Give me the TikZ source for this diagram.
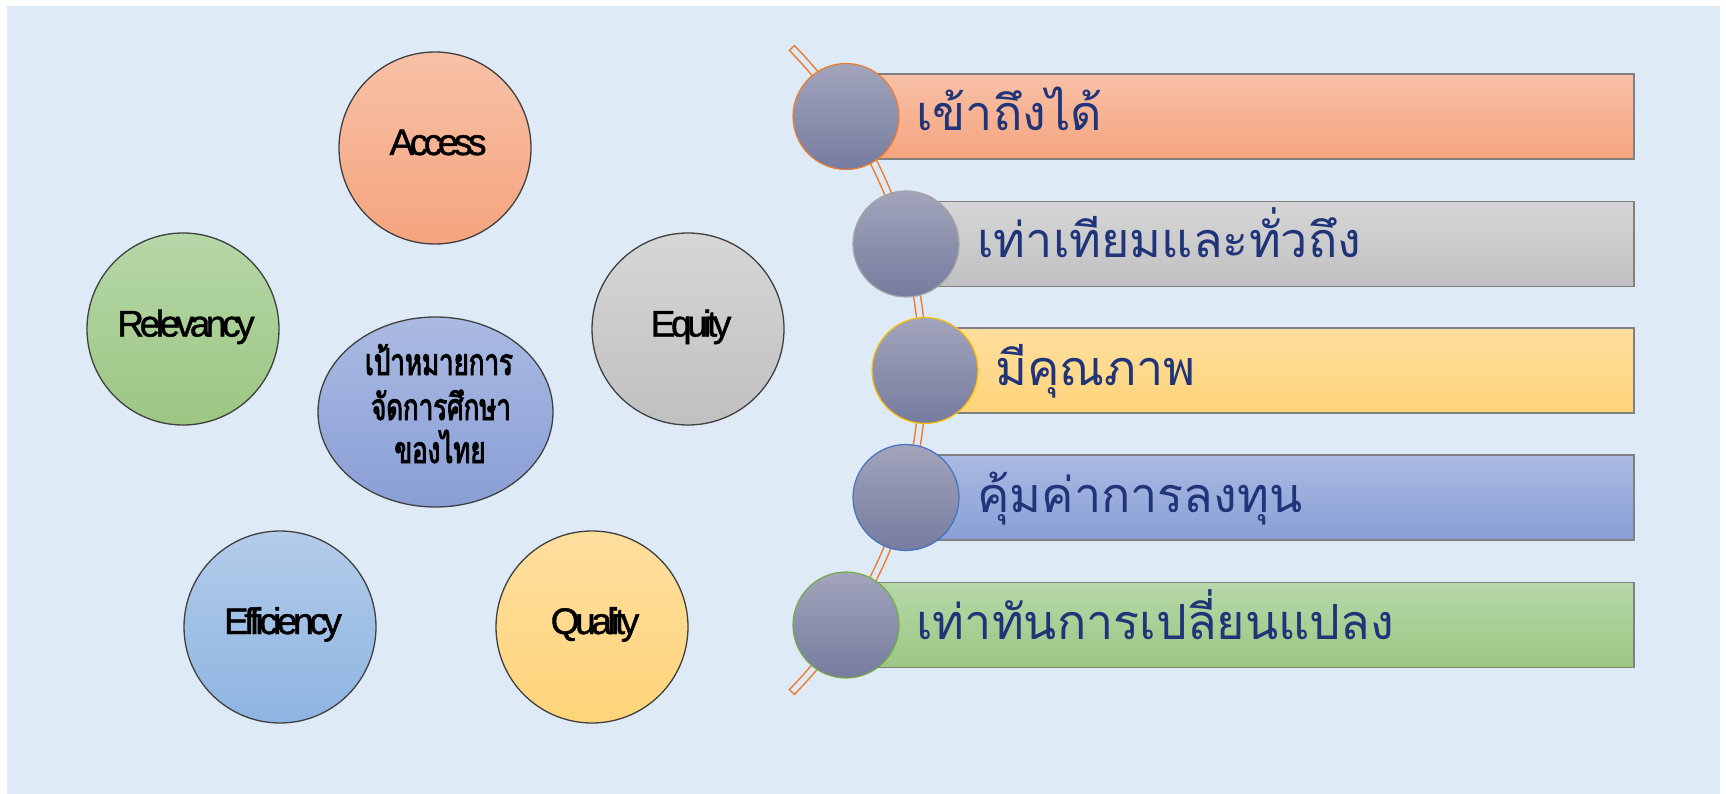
\documentclass[tikz,border=0pt]{standalone}
\usepackage{fontspec}
\setmainfont{Liberation Sans}
\newfontfamily\thaifont[Script=Thai]{Loma}
\newfontfamily\thaicenter[Script=Thai,FakeStretch=0.7,FakeBold=2.5]{Loma}
\newfontfamily\engfont[LetterSpace=-12,FakeBold=1.2]{Liberation Sans}
\usetikzlibrary{calc,shapes.geometric}
\definecolor{bg}{HTML}{DEEAF6}
\definecolor{orT}{HTML}{F8C1A7}\definecolor{orB}{HTML}{F5A47E}
\definecolor{grT}{HTML}{B6D7A8}\definecolor{grB}{HTML}{9CC782}
\definecolor{gyT}{HTML}{D6D6D6}\definecolor{gyB}{HTML}{C0C0C0}
\definecolor{blT}{HTML}{B3CCEA}\definecolor{blB}{HTML}{8DB4E1}
\definecolor{yeT}{HTML}{FFDF9F}\definecolor{yeB}{HTML}{FFD479}
\definecolor{puT}{HTML}{AABAE2}\definecolor{puB}{HTML}{899ED6}
\definecolor{knT}{HTML}{A2A4BB}\definecolor{knB}{HTML}{767C9F}
\definecolor{navy}{HTML}{1F3479}
\definecolor{arcor}{HTML}{ED7D31}
\definecolor{kOr}{HTML}{ED7D31}
\definecolor{kGy}{HTML}{A5A5A5}
\definecolor{kYe}{HTML}{FFC000}
\definecolor{kBl}{HTML}{4472C4}
\definecolor{kGr}{HTML}{70AD47}
\tikzset{
  bigc/.style={circle, draw=black!75, line width=1.3pt, minimum size=192pt, inner sep=0pt},
  engtxt/.style={font=\engfont\fontsize{37}{40}\selectfont, anchor=base, inner sep=0pt},
  ctrtxt/.style={font=\thaicenter\fontsize{37}{40}\selectfont, anchor=base, inner sep=0pt, text height=24pt, text depth=4pt},
  barbox/.style={rectangle, draw=black!50, line width=1.5pt, minimum height=85pt, anchor=west, inner sep=0pt},
  knob/.style={circle, minimum size=106pt, inner sep=0pt, line width=1.2pt, top color=knT, bottom color=knB},
  bartxt/.style={font=\thaifont\fontsize{48.5}{55}\selectfont, text=navy, anchor=base west, inner sep=0pt}
}
\begin{document}
\begin{tikzpicture}[x=1pt,y=-1pt]
\useasboundingbox (0,0) rectangle (1726,794);
\fill[white] (0,0) rectangle (1726,794);
\fill[bg] (7,6) rectangle (1720,794);
% left circles
\node[bigc, top color=orT, bottom color=orB] (access) at (435,148) {};
\node[bigc, top color=grT, bottom color=grB] (relev) at (183,329) {};
\node[bigc, top color=gyT, bottom color=gyB] (equity) at (688,329) {};
\node[bigc, top color=blT, bottom color=blB] (effic) at (280,627) {};
\node[bigc, top color=yeT, bottom color=yeB] (quality) at (592,627) {};
\node[ellipse, draw=black!75, line width=1.3pt, minimum width=235pt, minimum height=190pt, inner sep=0pt, top color=puT, bottom color=puB] (goal) at (435.5,412) {};
\node[engtxt] (taccess) at (438,155) {Access};
\node[engtxt] (trelev) at (186,336.5) {Relevancy};
\node[engtxt] (tequity) at (691,336.5) {Equity};
\node[engtxt] (teffic) at (283,634) {Efficiency};
\node[engtxt] (tquality) at (595,634) {Quality};
\node[ctrtxt] (g1) at (439,375) {เป้าหมายการ};
\node[ctrtxt] (g2) at (441,420) {จัดการศึกษา};
\node[ctrtxt] (g3) at (440,463) {ของไทย};
% arc band
\coordinate (ac) at (462,370);
\draw[arcor, line width=1.4pt, fill=bg] ($(ac)+(-44.3:464.5)$) arc[start angle=-44.3, end angle=44.3, radius=464.5]
  -- ($(ac)+(44.3:457.5)$) arc[start angle=44.3, end angle=-44.3, radius=457.5] -- cycle;
% bars
\node[barbox, minimum width=787pt, top color=orT, bottom color=orB] (b1) at (846,116.5) {};
\node[barbox, minimum width=727pt, top color=gyT, bottom color=gyB] (b2) at (906,244) {};
\node[barbox, minimum width=708pt, top color=yeT, bottom color=yeB] (b3) at (925,370.5) {};
\node[barbox, minimum width=727pt, top color=puT, bottom color=puB] (b4) at (906,497.5) {};
\node[barbox, minimum width=787pt, top color=grT, bottom color=grB] (b5) at (846,625) {};
% knobs
\node[knob, draw=kOr] (k1) at (846,116.5) {};
\node[knob, draw=kGy] (k2) at (906,244) {};
\node[knob, draw=kYe] (k3) at (925,370.5) {};
\node[knob, draw=kBl] (k4) at (906,497.5) {};
\node[knob, draw=kGr] (k5) at (846,625) {};
% bar texts
\node[bartxt] (t1) at (916,130.5) {เข้าถึงได้};
\node[bartxt] (t2) at (977,258) {เท่าเทียมและทั่วถึง};
\node[bartxt] (t3) at (995,385) {มีคุณภาพ};
\node[bartxt] (t4) at (977,512) {คุ้มค่าการลงทุน};
\node[bartxt] (t5) at (916,639) {เท่าทันการเปลี่ยนแปลง};
\end{tikzpicture}
\end{document}
